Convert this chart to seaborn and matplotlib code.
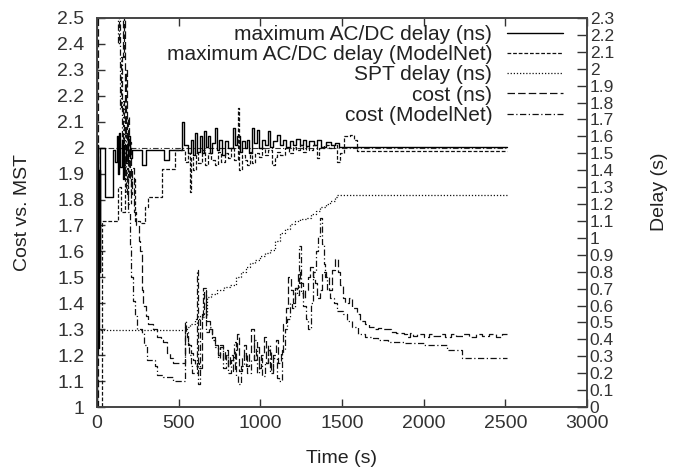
import matplotlib
matplotlib.use("Agg")
import matplotlib.pyplot as plt
import pandas as pd
import seaborn as sns
from matplotlib.ticker import MultipleLocator, FuncFormatter

# values: (time in s, value), drawn as steps
# delays (right axis, seconds)
delay_ns = [(0, 0.0), (3, 1.55), (8, 0.35), (12, 1.40), (16, 0.80), (20, 1.53), (49, 1.24),
            (100, 1.52), (110, 1.45), (120, 1.60), (128, 1.38), (136, 1.62), (144, 1.42),
            (152, 1.58), (160, 1.35), (168, 1.55), (178, 1.44), (188, 1.60), (200, 1.47),
            (215, 1.52), (275, 1.43), (300, 1.52), (410, 1.46), (440, 1.52), (521, 1.685),
            (530, 1.55), (560, 1.50), (575, 1.58), (590, 1.49), (600, 1.62), (612, 1.51),
            (630, 1.60), (642, 1.50), (655, 1.63), (668, 1.54), (679, 1.60), (690, 1.50),
            (705, 1.56), (722, 1.65), (735, 1.52), (750, 1.58), (765, 1.49), (783, 1.57),
            (800, 1.53), (832, 1.65), (845, 1.55), (860, 1.60), (875, 1.51), (890, 1.57),
            (905, 1.53), (918, 1.58), (932, 1.50), (949, 1.65), (960, 1.56), (979, 1.64),
            (995, 1.53), (1010, 1.58), (1030, 1.55), (1047, 1.63), (1060, 1.54), (1080, 1.57),
            (1102, 1.61), (1120, 1.55), (1140, 1.58), (1160, 1.54), (1181, 1.57), (1200, 1.55),
            (1220, 1.585), (1240, 1.55), (1260, 1.58), (1280, 1.545), (1300, 1.57), (1330, 1.55),
            (1350, 1.58), (1370, 1.54), (1400, 1.565), (1430, 1.55), (1460, 1.56), (1480, 1.535),
            (2510, 1.535)]

delay_modelnet = [(0, 0.0), (33, 1.10), (130, 1.30), (150, 1.15), (170, 1.45), (190, 1.20),
                  (210, 1.35), (230, 1.10), (263, 1.09), (294, 1.18), (312, 1.24), (398, 1.41),
                  (477, 1.52), (540, 1.45), (555, 1.50), (569, 1.27), (575, 1.48), (590, 1.40),
                  (605, 1.50), (620, 1.44), (640, 1.52), (660, 1.43), (679, 1.50), (700, 1.46),
                  (722, 1.43), (740, 1.51), (760, 1.45), (783, 1.50), (800, 1.47), (820, 1.53),
                  (840, 1.46), (863, 1.77), (872, 1.40), (890, 1.49), (905, 1.46), (918, 1.43),
                  (935, 1.51), (949, 1.44), (965, 1.50), (990, 1.48), (1010, 1.53), (1030, 1.49),
                  (1050, 1.52), (1071, 1.43), (1090, 1.48), (1102, 1.51), (1120, 1.49), (1150, 1.53),
                  (1175, 1.50), (1200, 1.54), (1220, 1.52), (1240, 1.55), (1260, 1.51), (1280, 1.54),
                  (1300, 1.52), (1320, 1.55), (1346, 1.47), (1360, 1.53), (1390, 1.55), (1420, 1.53),
                  (1450, 1.55), (1469, 1.45), (1490, 1.50), (1510, 1.60), (1550, 1.61), (1575, 1.58),
                  (1590, 1.515), (2510, 1.515)]

spt_delay = [(0, 0.455), (509, 0.455), (540, 0.473), (571, 0.49), (600, 0.52), (640, 0.53),
             (670, 0.54), (676, 0.65), (700, 0.67), (736, 0.69), (780, 0.71), (816, 0.72),
             (850, 0.77), (880, 0.80), (910, 0.83), (939, 0.85), (970, 0.87), (1000, 0.89),
             (1030, 0.91), (1061, 0.93), (1090, 0.98), (1123, 1.03), (1150, 1.05), (1184, 1.08),
             (1215, 1.10), (1245, 1.11), (1288, 1.12), (1310, 1.14), (1340, 1.16), (1368, 1.18),
             (1400, 1.20), (1429, 1.22), (1460, 1.24), (1472, 1.254), (2510, 1.254)]

# costs (left axis, ratio to MST)
cost_ns = [(0, 1.00), (6, 2.90), (150, 2.90), (158, 2.35), (164, 2.60), (170, 2.05), (176, 2.30),
           (182, 1.95), (188, 2.12), (194, 1.88), (200, 2.02), (208, 1.82), (216, 1.92),
           (225, 1.75), (240, 1.70), (255, 1.64), (263, 1.60), (275, 1.45), (282, 1.39),
           (300, 1.35), (312, 1.32), (340, 1.30), (367, 1.27), (390, 1.26), (404, 1.25),
           (428, 1.21), (450, 1.19), (465, 1.17), (539, 1.30), (550, 1.27), (560, 1.24),
           (575, 1.21), (590, 1.18), (600, 1.16), (610, 1.17), (625, 1.15), (640, 1.36),
           (655, 1.45), (670, 1.33), (690, 1.30), (705, 1.27), (722, 1.24), (740, 1.20),
           (755, 1.23), (770, 1.18), (785, 1.22), (800, 1.16), (815, 1.20), (830, 1.14),
           (845, 1.22), (860, 1.28), (870, 1.14), (885, 1.19), (900, 1.24), (915, 1.16),
           (930, 1.21), (945, 1.30), (960, 1.18), (975, 1.23), (990, 1.15), (1005, 1.20),
           (1020, 1.27), (1035, 1.17), (1050, 1.22), (1065, 1.14), (1080, 1.20), (1095, 1.26),
           (1110, 1.17), (1125, 1.21), (1140, 1.32), (1155, 1.38), (1172, 1.50), (1185, 1.45),
           (1200, 1.40), (1215, 1.46), (1230, 1.52), (1245, 1.48), (1260, 1.42), (1275, 1.45),
           (1290, 1.50), (1305, 1.54), (1320, 1.50), (1335, 1.48), (1350, 1.42), (1365, 1.45),
           (1380, 1.52), (1400, 1.50), (1420, 1.45), (1440, 1.53), (1460, 1.57), (1475, 1.52),
           (1490, 1.47), (1505, 1.42), (1520, 1.40), (1540, 1.42), (1560, 1.38), (1590, 1.36),
           (1613, 1.33), (1640, 1.32), (1665, 1.31), (1693, 1.30), (1720, 1.305), (1750, 1.30),
           (1798, 1.29), (1830, 1.285), (1877, 1.28), (1900, 1.27), (1915, 1.285), (1935, 1.275),
           (1960, 1.28), (2000, 1.27), (2030, 1.28), (2060, 1.275), (2100, 1.28), (2130, 1.27),
           (2170, 1.28), (2200, 1.275), (2240, 1.28), (2280, 1.27), (2320, 1.28), (2360, 1.275),
           (2400, 1.28), (2440, 1.27), (2480, 1.28), (2510, 1.28)]

cost_modelnet = [(0, 1.00), (3, 2.90), (120, 2.90), (128, 2.40), (134, 2.65), (140, 2.15),
                 (146, 2.35), (152, 1.98), (158, 2.18), (164, 1.90), (170, 2.05), (176, 1.82),
                 (184, 1.92), (192, 1.75), (200, 1.62), (210, 1.50), (220, 1.41), (232, 1.35),
                 (245, 1.30), (275, 1.285), (290, 1.24), (306, 1.18), (355, 1.16), (367, 1.125),
                 (404, 1.115), (465, 1.10), (539, 1.33), (548, 1.29), (558, 1.25), (566, 1.20),
                 (574, 1.16), (582, 1.13), (612, 1.53), (620, 1.09), (632, 1.35), (650, 1.46),
                 (668, 1.29), (685, 1.31), (705, 1.26), (724, 1.23), (740, 1.19), (756, 1.24),
                 (772, 1.15), (790, 1.20), (805, 1.13), (820, 1.18), (838, 1.25), (852, 1.12),
                 (865, 1.09), (880, 1.16), (900, 1.21), (920, 1.13), (940, 1.18), (960, 1.26),
                 (978, 1.13), (995, 1.19), (1012, 1.12), (1030, 1.17), (1048, 1.24), (1062, 1.13),
                 (1080, 1.19), (1100, 1.11), (1116, 1.10), (1130, 1.22), (1150, 1.30), (1165, 1.34),
                 (1180, 1.40), (1195, 1.38), (1210, 1.46), (1225, 1.43), (1239, 1.62), (1248, 1.44),
                 (1262, 1.39), (1278, 1.34), (1294, 1.30), (1310, 1.40), (1325, 1.52), (1340, 1.60),
                 (1355, 1.66), (1368, 1.73), (1378, 1.63), (1390, 1.55), (1399, 1.50), (1410, 1.45),
                 (1429, 1.42), (1450, 1.40), (1470, 1.37), (1506, 1.36), (1530, 1.33), (1560, 1.31),
                 (1600, 1.28), (1640, 1.27), (1680, 1.265), (1720, 1.26), (1780, 1.25), (1820, 1.25),
                 (1877, 1.245), (2000, 1.24), (2142, 1.22), (2234, 1.19), (2510, 1.19)]

# reference level cost = 2 (no legend entry)
ref_cost = [(0, 2.0), (2510, 2.0)]

labels = ["maximum AC/DC delay (ns)", "maximum AC/DC delay (ModelNet)", "SPT delay (ns)",
          "cost (ns)", "cost (ModelNet)"]

sns.set_style("ticks")
plt.rcParams["font.family"] = ["Liberation Sans", "DejaVu Sans"]

fig = plt.figure(figsize=(6.73, 4.72), dpi=100)
ax = fig.add_axes([0.1441, 0.1377, 0.7281, 0.8242])
ax2 = ax.twinx()


def draw(axis, pts, ls, label=None, lw=0.9, color="#111111"):
    df = pd.DataFrame(pts, columns=["t", "v"])
    sns.lineplot(data=df, x="t", y="v", ax=axis, estimator=None, sort=False,
                 drawstyle="steps-post", color=color, linewidth=lw, linestyle=ls,
                 legend=False)
    line = axis.lines[-1]
    if label:
        line.set_label(label)
    return line


draw(ax, ref_cost, (0, (5, 2, 1, 2)), lw=0.8, color="#333333")
h4 = draw(ax, cost_ns, (0, (6, 2.5)), labels[3])
h5 = draw(ax, cost_modelnet, (0, (5, 2, 1, 2)), labels[4])
h1 = draw(ax2, delay_ns, "-", labels[0], lw=1.0, color="black")
h2 = draw(ax2, delay_modelnet, (0, (3, 1.5)), labels[1])
h3 = draw(ax2, spt_delay, (0, (1, 1.5)), labels[2])

fmt = FuncFormatter(lambda v, p: "%g" % round(v, 2))

ax.set_xlim(0, 3000)
ax.set_ylim(1, 2.5)
ax.xaxis.set_major_locator(MultipleLocator(500))
ax.yaxis.set_major_locator(MultipleLocator(0.1))
ax.yaxis.set_major_formatter(fmt)
ax.tick_params(axis="both", direction="in", length=6, width=1, colors="#333333",
               labelsize=14, top=True, right=False)
ax.tick_params(axis="y", pad=9)
ax.tick_params(axis="x", pad=6)

ax2.set_ylim(0, 2.3)
ax2.yaxis.set_major_locator(MultipleLocator(0.1))
ax2.yaxis.set_major_formatter(fmt)
ax2.tick_params(axis="y", direction="in", length=7, width=1, colors="#333333",
                labelsize=12.5, pad=2)
for t in ax2.get_yticklabels():
    t.set_family(["Liberation Sans Narrow", "Liberation Sans"])

for a in (ax, ax2):
    for s in a.spines.values():
        s.set_color("#444444")
        s.set_linewidth(1.2)

ax.set_xlabel("Time (s)", fontsize=14, color="#222222")
ax.set_ylabel("Cost vs. MST", fontsize=14, color="#222222")
ax2.set_ylabel("Delay (s)", fontsize=14, color="#222222")
ax.xaxis.set_label_coords(0.5, -0.11)
ax.yaxis.set_label_coords(-0.134, 0.5)
ax2.yaxis.set_label_coords(1.131, 0.553)

leg = ax2.legend([h1, h2, h3, h4, h5], labels, loc="upper right",
                 bbox_to_anchor=(0.951, 0.982), frameon=False, markerfirst=False,
                 fontsize=15, handlelength=2.7, handletextpad=0.7,
                 labelspacing=0.06, borderpad=0, borderaxespad=0)
for t in leg.get_texts():
    t.set_color("#222222")

fig.savefig("out.png", dpi=100)
